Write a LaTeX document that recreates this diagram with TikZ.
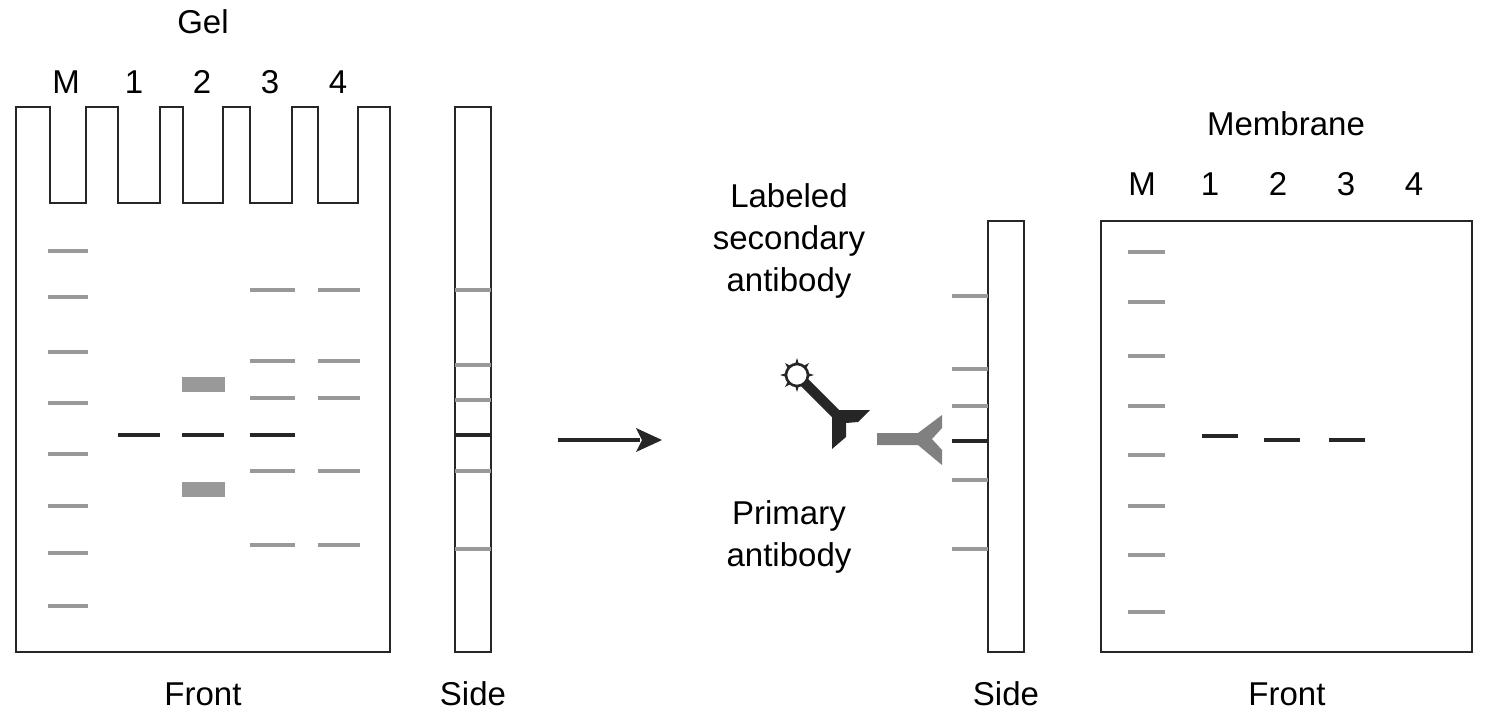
\documentclass[tikz,border=0pt]{standalone}
\usepackage{fontspec}
\setmainfont{Liberation Sans}
\usetikzlibrary{calc}
\begin{document}
\begin{tikzpicture}[x=0.5pt,y=-0.5pt,
  lbl/.style={font=\fontsize{16.5}{21}\selectfont,inner sep=0pt,align=center},
  outline/.style={draw=black!85,line width=1.1pt},
  gb/.style={draw=black!40,line width=1.6pt},
  bb/.style={draw=black!85,line width=1.6pt}]
\useasboundingbox (0,0) rectangle (1496,719);
% gel front
\draw[outline] (16,107)--(50,107)--(50,203)--(86,203)--(86,107)--(118,107)--(118,203)--(160,203)--(160,107)--(183,107)--(183,203)--(223,203)--(223,107)--(250,107)--(250,203)--(292,203)--(292,107)--(318,107)--(318,203)--(358,203)--(358,107)--(390,107)--(390,652)--(16,652)--cycle;
\node[lbl] (gel) at (203,22) {Gel};
\foreach \t/\x in {M/66,1/134,2/202,3/270,4/338} \node[lbl] (g\t) at (\x,82) {\t};
\foreach \y in {251,297,352,403,454,506,553,606} \draw[gb] (48,\y)--(88,\y);
\draw[bb] (118,435)--(160,435);
\draw[bb] (182,435)--(224,435);
\fill[black!40] (182,377) rectangle (225,392);
\fill[black!40] (182,482) rectangle (225,497);
\foreach \y in {290,361,398,471,545} {\draw[gb] (250,\y)--(295,\y); \draw[gb] (318,\y)--(360,\y);}
\draw[bb] (250,435)--(295,435);
% gel side
\draw[outline] (455,107) rectangle (491,652);
\foreach \y in {290,365,400,471,549} \draw[gb] (455,\y)--(491,\y);
\draw[bb] (455,435)--(491,435);
\node[lbl] (gf) at (203,694) {Front};
\node[lbl] (gs) at (473,694) {Side};
% arrow
\coordinate (a1) at (558,440); \coordinate (a2) at (662,440);
\draw[black!85,line width=1.6pt] (a1)--(640,440);
\fill[black!85] (a2)--(636,428)--(642,440)--(636,452)--cycle;
% labels
\node[lbl] (sec) at (789,241) {Labeled\\secondary\\antibody};
\node[lbl] (pri) at (789,537) {Primary\\antibody};
% secondary antibody
\draw[black!85,line width=5pt] (797,375)--(839,417);
\fill[black!85] (838,410)--(870,410)--(858,422)--(846,423)--(846,437)--(832,449)--(832,416)--cycle;
\foreach \a in {0,45,...,315} \fill[black!85] ($(797,375)+(\a:17)$)--($(797,375)+(\a+10:11)$)--($(797,375)+(\a-10:11)$)--cycle;
\draw[black!85,line width=1.3pt,fill=white] (797,375) circle (11);
% primary antibody
\fill[black!50] (877,433)--(918,433)--(942,415)--(942,428)--(932,439)--(942,450)--(942,465)--(918,445)--(877,445)--cycle;
% membrane side
\draw[outline] (988,221) rectangle (1024,652);
\foreach \y in {296,369,406,480,549} \draw[gb] (952,\y)--(988,\y);
\draw[bb] (952,441)--(988,441);
\node[lbl] (ms) at (1006,694) {Side};
% membrane front
\draw[outline] (1101,221) rectangle (1472,652);
\node[lbl] (mem) at (1286,124) {Membrane};
\foreach \t/\x in {M/1142,1/1210,2/1278,3/1346,4/1414} \node[lbl] (m\t) at (\x,184) {\t};
\foreach \y in {252,302,356,406,455,506,555,612} \draw[gb] (1128,\y)--(1165,\y);
\draw[bb] (1202,436)--(1238,436);
\draw[bb] (1264,440)--(1300,440);
\draw[bb] (1329,440)--(1365,440);
\node[lbl] (mf) at (1287,694) {Front};
\end{tikzpicture}
\end{document}
